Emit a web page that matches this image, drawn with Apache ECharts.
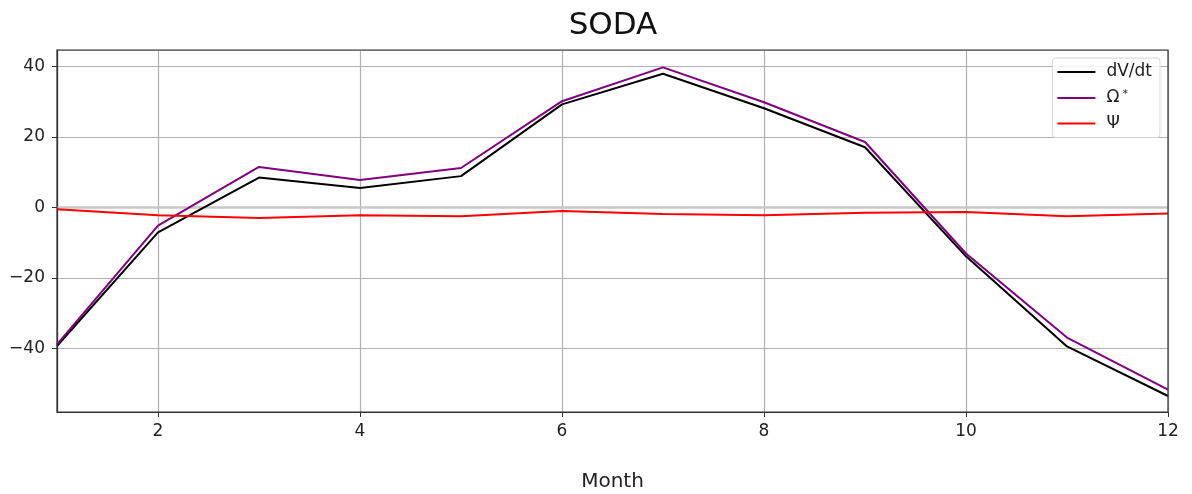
<!DOCTYPE html>
<html>
<head>
<meta charset="utf-8">
<script src="https://cdn.jsdelivr.net/npm/echarts@6/dist/echarts.min.js"></script>
<style>
  html, body { margin: 0; padding: 0; background: #fff; }
  #chart { width: 1192px; height: 494px; }
</style>
</head>
<body>
<div id="chart"></div>
<script>
// Monthly budget terms (SODA)
const months = [1, 2, 3, 4, 5, 6, 7, 8, 9, 10, 11, 12];
const dVdt  = [-39.4, -7.1, 8.5, 5.5, 8.9, 29.3, 38.0, 28.2, 17.1, -13.9, -39.5, -53.6];
const omega = [-38.9, -5.2, 11.5, 7.8, 11.2, 30.2, 39.8, 29.9, 18.6, -13.1, -37.0, -51.8];
const psi   = [-0.5, -2.2, -3.0, -2.2, -2.5, -1.05, -1.9, -2.2, -1.5, -1.3, -2.5, -1.7];

const seriesNames = ['dV/dt', 'Ω*', 'Ψ'];
const seriesColors = ['#000000', '#800080', '#ff0000'];
const seriesValues = [dVdt, omega, psi];

const FONT = 'DejaVu Sans';
const fmtNum = v => String(v).replace('-', '\u2212');

const chart = echarts.init(document.getElementById('chart'), null, { renderer: 'canvas' });

const series = seriesValues.map((vals, i) => ({
  name: seriesNames[i],
  type: 'line',
  data: months.map((m, k) => [m, vals[k]]),
  symbol: 'none',
  lineStyle: { color: seriesColors[i], width: 2 },
  itemStyle: { color: seriesColors[i] },
  z: 3 + i,
  animation: false
}));

// light reference line along zero
series[0].markLine = {
  silent: true,
  symbol: 'none',
  label: { show: false },
  lineStyle: { color: '#c8c8c8', width: 2.5, type: 'solid' },
  data: [{ yAxis: 0 }],
  z: 1
};

chart.setOption({
  animation: false,
  backgroundColor: '#ffffff',
  title: {
    text: 'SODA',
    left: 608, top: 5,
    textAlign: 'center',
    textStyle: { fontFamily: FONT, fontSize: 31, fontWeight: 'normal', color: '#111' }
  },
  grid: {
    left: 57, right: 24, top: 50, bottom: 82,
    containLabel: false,
    outerBoundsMode: 'none',
    show: false
  },
  legend: {
    orient: 'vertical',
    right: 32, top: 58,
    padding: [5, 8, 5, 5],
    itemGap: 7.5,
    itemWidth: 38,
    itemHeight: 2,
    icon: 'rect',
    backgroundColor: 'rgba(255,255,255,0.85)',
    borderColor: '#d6d6d6',
    borderWidth: 1,
    borderRadius: 3,
    data: seriesNames,
    formatter: name => name === 'Ω*' ? '{a|Ω}{s|*}' : '{a|' + name + '}',
    textStyle: {
      fontFamily: FONT, fontSize: 17, color: '#222',
      rich: {
        a: { fontFamily: FONT, fontSize: 17, color: '#222', height: 18, lineHeight: 18, padding: [0, 0, 0, 6] },
        s: { fontFamily: FONT, fontSize: 11, color: '#222', verticalAlign: 'top', padding: [0, 0, 8, 3] }
      }
    }
  },
  xAxis: {
    type: 'value',
    min: 1, max: 12,
    splitNumber: 5,
    name: 'Month',
    nameLocation: 'middle',
    nameGap: 60,
    nameTextStyle: { fontFamily: FONT, fontSize: 20, color: '#222' },
    axisLine: { show: true, onZero: false, lineStyle: { color: '#333', width: 1.2 } },
    axisTick: { show: true, inside: false, length: 5, lineStyle: { color: '#333', width: 1 } },
    axisLabel: {
      showMinLabel: false,
      margin: 11,
      fontFamily: FONT, fontSize: 17, color: '#222',
      formatter: fmtNum
    },
    splitLine: { show: true, lineStyle: { color: '#b0b0b0', width: 1.2 } }
  },
  yAxis: {
    type: 'value',
    min: -58.15, max: 44.75,
    splitNumber: 5,
    axisLine: { show: true, onZero: false, lineStyle: { color: '#333', width: 1.2 } },
    axisTick: { show: true, inside: false, length: 5, lineStyle: { color: '#333', width: 1 } },
    axisLabel: {
      showMinLabel: false, showMaxLabel: false,
      margin: 12,
      fontFamily: FONT, fontSize: 17, color: '#222',
      formatter: fmtNum
    },
    splitLine: { show: true, lineStyle: { color: '#b0b0b0', width: 1.2 } }
  },
  // matching top/right frame lines
  graphic: [
    {
      type: 'rect',
      shape: { x: 57, y: 50, width: 1111, height: 362 },
      style: { fill: 'none', stroke: '#333', lineWidth: 1.2 },
      silent: true,
      z: 10
    }
  ],
  series: series
});
</script>
</body>
</html>
